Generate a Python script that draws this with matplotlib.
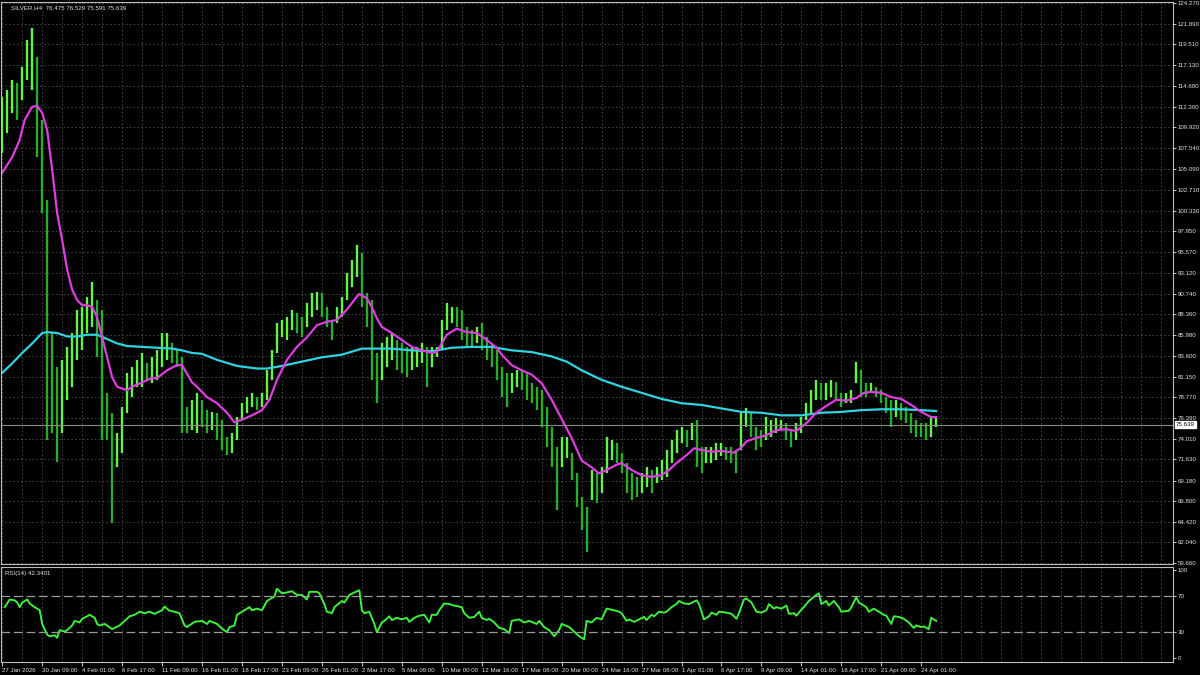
import numpy as np
import matplotlib
matplotlib.use("Agg")
import matplotlib.pyplot as plt
from matplotlib import font_manager

# SILVER H4 - one entry per two H4 bars (highs / lows)
bar_high = [113.4, 114.2, 115.4, 115.0, 116.9, 120.0, 121.4, 118.0, 110.8, 101.5,
            86.2, 82.3, 83.1, 84.6, 86.2, 88.9, 89.2, 90.4, 92.1, 90.0,
            88.9, 79.3, 77.0, 74.7, 77.7, 81.6, 82.3, 83.1, 83.9, 82.7,
            83.4, 84.2, 86.2, 86.2, 85.0, 84.2, 83.4, 77.7, 78.5, 79.3,
            78.5, 77.3, 77.1, 77.0, 76.2, 74.2, 74.7, 76.5, 78.1, 78.8,
            79.3, 78.8, 79.3, 81.9, 84.2, 87.4, 87.7, 88.0, 88.9, 88.5,
            88.0, 89.7, 90.8, 90.9, 90.8, 89.2, 87.7, 89.2, 90.4, 93.1,
            94.6, 96.4, 95.4, 90.8, 90.0, 83.9, 85.0, 85.7, 86.2, 85.4,
            85.0, 84.6, 84.6, 84.6, 85.0, 84.6, 84.6, 84.6, 87.7, 89.7,
            89.2, 89.2, 88.9, 86.9, 86.5, 86.9, 87.4, 85.7, 85.0, 84.2,
            82.3, 81.6, 81.6, 81.9, 81.9, 81.6, 80.4, 80.0, 79.6, 77.7,
            75.4, 73.0, 74.2, 74.2, 72.4, 70.0, 67.3, 66.1, 70.4, 70.0,
            70.7, 74.2, 73.9, 73.5, 72.4, 71.2, 70.0, 69.6, 70.0, 70.7,
            70.4, 70.7, 71.6, 72.7, 73.9, 75.0, 75.4, 75.0, 75.8, 76.2,
            73.0, 73.0, 73.0, 73.5, 73.5, 73.0, 73.0, 72.7, 77.0, 77.6,
            77.0, 75.4, 75.0, 76.5, 76.2, 76.4, 76.2, 75.8, 75.0, 75.8,
            76.5, 78.1, 79.6, 80.8, 80.4, 80.4, 80.8, 80.5, 79.3, 79.3,
            79.6, 82.9, 81.9, 80.4, 80.4, 80.0, 79.6, 78.8, 78.5, 78.5,
            78.1, 77.7, 77.0, 76.2, 75.8, 75.8, 76.5, 76.5]
bar_low = [107.0, 109.3, 111.6, 110.8, 113.1, 115.4, 114.2, 106.5, 100.0, 73.9,
           74.7, 71.3, 74.7, 78.5, 80.0, 83.1, 84.2, 86.2, 86.9, 83.4,
           73.9, 73.9, 64.3, 70.7, 72.4, 77.0, 78.8, 80.0, 80.0, 80.8,
           80.4, 80.8, 82.3, 83.1, 82.7, 82.3, 74.7, 74.7, 75.0, 74.7,
           75.4, 74.7, 75.0, 73.9, 72.7, 72.1, 72.4, 73.9, 76.2, 77.0,
           77.7, 77.3, 77.7, 78.5, 80.8, 83.9, 85.7, 85.4, 86.5, 86.2,
           85.7, 86.9, 88.0, 88.9, 88.0, 86.9, 85.4, 87.4, 88.0, 90.0,
           91.5, 92.7, 89.2, 86.9, 80.8, 78.1, 80.8, 82.3, 83.1, 81.9,
           81.6, 81.1, 81.9, 82.3, 82.7, 80.0, 82.3, 83.4, 84.2, 86.5,
           87.4, 86.9, 85.4, 84.6, 84.6, 85.0, 84.2, 83.1, 82.3, 80.8,
           78.8, 77.7, 79.3, 80.0, 79.6, 78.5, 78.1, 77.3, 75.4, 73.0,
           70.7, 65.8, 70.7, 71.8, 69.2, 66.1, 63.5, 60.9, 66.9, 66.6,
           67.7, 70.0, 71.6, 71.2, 70.0, 67.7, 66.9, 67.3, 67.7, 68.4,
           67.7, 68.9, 69.2, 69.6, 71.2, 72.4, 73.5, 73.0, 73.9, 70.7,
           70.0, 71.2, 71.2, 71.6, 72.0, 71.6, 71.2, 70.0, 72.7, 75.4,
           74.2, 72.7, 73.0, 73.9, 74.2, 74.7, 75.0, 73.9, 73.0, 73.9,
           74.7, 76.2, 77.0, 78.5, 78.5, 78.5, 78.8, 78.5, 77.7, 78.1,
           78.1, 80.4, 78.8, 78.8, 79.3, 78.8, 78.1, 77.0, 75.4, 76.5,
           76.2, 75.8, 74.7, 74.2, 74.2, 73.9, 74.2, 75.4]

# moving averages (bar number, price)
ma_fast_bar = [0, 4, 7, 9, 12, 14, 16, 18, 20, 22, 24, 26, 28, 30, 32, 34, 36, 38, 40, 42,
               44, 46, 50, 52, 56, 60, 62, 66, 70, 72, 76, 78, 82, 86, 90, 93, 96, 100, 104, 107,
               110, 114, 118, 122, 126, 130, 134, 138, 142, 143, 146, 148, 150, 152, 156, 160, 164, 168, 172, 174,
               176, 178, 182, 186, 190, 194, 198, 200, 204, 208, 212, 216, 220, 224, 228, 232, 236, 239, 242, 246,
               248, 252, 256, 260, 264, 267, 270, 274, 277, 280, 284, 288, 293, 296, 298, 302, 306, 310, 314, 318,
               322, 326, 330, 334, 338, 342, 345, 348, 352, 356, 360, 364, 368, 372, 374]
ma_fast = [104.7, 106.5, 108.5, 110.8, 112.3, 112.4, 111.6, 109.6, 105.0, 100.0, 96.9, 93.5, 91.2, 90.0, 89.4, 89.4, 89.2, 88.0, 85.7, 83.4,
           81.1, 80.0, 79.6, 80.0, 80.5, 81.0, 81.0, 81.9, 82.5, 82.5, 80.5, 80.0, 78.8, 78.1, 77.0, 75.9, 76.2, 76.7, 77.3, 78.5,
           80.8, 83.1, 84.6, 85.7, 87.1, 87.5, 87.7, 88.9, 90.4, 90.7, 90.2, 89.2, 87.9, 86.9, 86.2, 85.4, 84.6, 84.2, 83.9, 84.0,
           85.0, 86.0, 86.7, 86.3, 86.2, 85.4, 84.5, 83.7, 82.5, 81.9, 81.4, 80.4, 78.5, 76.3, 74.1, 71.5, 70.7, 70.0, 70.4, 71.0,
           71.2, 70.4, 69.8, 69.6, 69.8, 70.4, 71.2, 72.1, 72.9, 72.7, 72.5, 72.6, 72.4, 73.0, 73.7, 74.1, 74.4, 75.0, 75.1, 74.9,
           75.8, 77.0, 77.8, 78.5, 78.4, 78.7, 79.3, 79.4, 79.3, 78.8, 78.6, 77.9, 77.1, 76.5, 76.5]
ma_slow_bar = [0, 4, 8, 12, 16, 18, 22, 26, 30, 34, 38, 42, 46, 50, 56, 62, 68, 72, 76, 80,
               86, 94, 102, 106, 112, 120, 128, 136, 144, 148, 156, 164, 172, 180, 188, 196, 204, 212, 220, 226,
               232, 240, 248, 256, 264, 272, 280, 288, 296, 304, 312, 320, 328, 336, 344, 352, 360, 368, 374]
ma_slow = [81.6, 82.7, 83.9, 85.0, 86.2, 86.3, 86.2, 85.8, 85.8, 86.0, 86.0, 85.5, 85.0, 84.7, 84.6, 84.5, 84.4, 84.2, 83.9, 83.8,
           83.1, 82.4, 82.1, 82.1, 82.4, 82.9, 83.4, 83.7, 84.4, 84.4, 84.4, 84.2, 84.1, 84.5, 84.6, 84.6, 84.2, 84.0, 83.5, 82.9,
           81.9, 80.8, 80.0, 79.3, 78.6, 78.1, 77.9, 77.5, 77.1, 77.0, 76.7, 76.7, 77.0, 77.1, 77.3, 77.4, 77.4, 77.3, 77.2]

# RSI(14) (bar number, value)
rsi_bar = [1, 3, 5, 6, 7, 8, 10, 11, 13, 15, 16, 18, 19, 21, 22, 23, 25, 26, 28, 29,
           31, 32, 34, 35, 37, 38, 39, 41, 42, 44, 47, 49, 51, 53, 55, 57, 59, 61, 64, 65,
           67, 69, 71, 73, 74, 77, 80, 82, 83, 86, 88, 90, 91, 93, 94, 96, 97, 99, 100, 102,
           104, 106, 109, 110, 112, 114, 116, 118, 120, 122, 123, 126, 127, 129, 130, 132, 133, 136, 137, 139,
           141, 143, 144, 145, 147, 149, 150, 152, 153, 155, 156, 158, 160, 162, 163, 165, 167, 169, 171, 172,
           174, 175, 177, 179, 181, 184, 185, 187, 189, 191, 192, 194, 195, 197, 199, 201, 203, 204, 207, 209,
           211, 214, 215, 217, 219, 221, 223, 224, 227, 229, 231, 233, 234, 236, 238, 240, 242, 245, 247, 248,
           250, 251, 253, 255, 257, 258, 260, 261, 263, 265, 266, 268, 270, 271, 273, 275, 278, 279, 281, 283,
           284, 286, 287, 290, 292, 294, 295, 297, 298, 300, 302, 304, 306, 307, 309, 310, 312, 314, 315, 317,
           318, 320, 321, 323, 326, 327, 328, 330, 331, 333, 335, 336, 339, 340, 342, 343, 346, 347, 349, 351,
           353, 354, 356, 357, 359, 361, 363, 365, 366, 368, 369, 371, 372, 374]
rsi = [57.8, 66.5, 65.5, 63.0, 57.8, 63.0, 66.5, 62.0, 57.8, 54.3, 38.7, 26.5, 24.8, 25.8, 23.0, 31.7, 30.0, 31.7, 37.0, 42.2,
       40.4, 44.6, 47.4, 49.1, 45.7, 38.7, 37.0, 38.7, 37.0, 32.8, 37.0, 42.2, 47.4, 49.1, 52.6, 50.9, 52.6, 50.2, 54.3, 58.5,
       53.7, 52.6, 50.9, 37.0, 35.2, 41.1, 42.2, 38.7, 42.2, 38.7, 33.5, 29.3, 35.2, 37.0, 49.1, 52.6, 54.3, 57.8, 54.3, 56.1,
       54.3, 64.8, 70.0, 78.7, 73.5, 74.5, 75.9, 71.7, 71.7, 66.5, 75.2, 75.2, 73.5, 61.3, 52.6, 50.9, 57.8, 64.8, 63.0, 71.7,
       74.5, 77.0, 54.3, 50.9, 52.6, 38.7, 29.3, 40.4, 42.2, 47.4, 43.2, 45.7, 43.9, 45.7, 41.1, 45.7, 48.1, 49.1, 40.4, 49.1,
       49.1, 54.3, 62.0, 61.3, 59.6, 57.8, 50.9, 45.7, 46.7, 52.6, 45.7, 43.2, 44.6, 40.4, 34.2, 32.8, 28.3, 42.2, 43.9, 40.4,
       42.2, 38.7, 42.2, 35.2, 31.7, 24.8, 31.7, 38.7, 35.2, 30.0, 24.8, 21.3, 42.2, 40.4, 45.7, 43.9, 56.1, 54.3, 52.6, 50.9,
       42.2, 43.9, 41.1, 43.9, 46.7, 43.2, 49.1, 47.4, 52.6, 51.6, 52.6, 57.8, 61.3, 64.8, 62.0, 61.3, 65.5, 61.3, 43.9, 47.4,
       51.6, 49.1, 52.6, 51.6, 50.2, 44.6, 50.9, 66.5, 67.6, 63.0, 52.6, 51.6, 54.3, 61.3, 56.1, 57.8, 56.1, 59.6, 50.2, 50.9,
       48.1, 55.0, 57.8, 64.8, 71.7, 73.5, 61.3, 64.8, 59.6, 64.8, 57.8, 52.6, 53.7, 57.8, 69.0, 63.0, 57.8, 52.6, 56.1, 52.6,
       49.1, 48.1, 38.7, 47.4, 46.7, 44.6, 40.4, 34.2, 37.0, 35.2, 35.9, 32.8, 45.7, 42.2]

price_ticks = [124.270, 121.890, 119.510, 117.130, 114.680, 112.300, 109.920, 107.540, 105.090,
               102.710, 100.330, 97.950, 95.570, 93.120, 90.740, 88.360, 85.980, 83.600, 81.150,
               78.770, 76.390, 74.010, 71.630, 69.180, 66.800, 64.420, 62.040, 59.660]
time_labels = ["27 Jan 2026", "30 Jan 09:00", "4 Feb 01:00", "6 Feb 17:00", "11 Feb 09:00",
               "16 Feb 01:00", "18 Feb 17:00", "23 Feb 09:00", "26 Feb 01:00", "2 Mar 17:00",
               "5 Mar 09:00", "10 Mar 00:00", "12 Mar 16:00", "17 Mar 08:00", "20 Mar 00:00",
               "24 Mar 16:00", "27 Mar 08:00", "1 Apr 01:00", "6 Apr 17:00", "9 Apr 09:00",
               "14 Apr 01:00", "16 Apr 17:00", "21 Apr 09:00", "24 Apr 01:00"]
bid = 75.639
rsi_last = 42.3401

# small condensed text like the terminal; fall back if the narrow face is missing
names = {f.name for f in font_manager.fontManager.ttflist}
if "Liberation Sans Narrow" in names:
    plt.rcParams["font.family"] = ["Liberation Sans Narrow", "DejaVu Sans"]
    fs = 5.3
else:
    plt.rcParams["font.family"] = ["Liberation Sans", "DejaVu Sans"]
    fs = 4.4
bg = "black"
grid_col = "#4a4a4a"
txt_col = "#e4e4e4"
frame_col = "#bdbdbd"

fig = plt.figure(figsize=(12, 6.75), dpi=100, facecolor=bg)
W, H = 1200, 675
ax = fig.add_axes([1 / W, 1 - 564 / H, 1172 / W, 562 / H], facecolor=bg)
ax2 = fig.add_axes([1 / W, 1 - 662 / H, 1172 / W, 95 / H], facecolor=bg)

x_max = 1172 / 2.5
bars_x = np.arange(len(bar_high)) * 2
hi = np.array(bar_high)
lo = np.array(bar_low)
mid = (hi + lo) / 2
up = np.r_[True, np.diff(mid) >= 0]
ax.vlines(bars_x[up], lo[up], hi[up], color="#62f545", lw=1.7)
ax.vlines(bars_x[~up], lo[~up], hi[~up], color="#28ad28", lw=1.7)

ax.plot(ma_slow_bar, ma_slow, color="#2fd4e0", lw=1.6)
ax.plot(ma_fast_bar, ma_fast, color="#de3ee0", lw=1.6)
ax.axhline(bid, color="#8a8a8a", lw=0.8)

for a in (ax, ax2):
    a.set_xlim(-0.5, x_max)
    for xg in np.arange(0, x_max, 8):
        a.axvline(xg, color=grid_col, lw=0.7, ls=(0, (1.5, 2.5)), zorder=0)
    for s in a.spines.values():
        s.set_color(frame_col)
        s.set_linewidth(0.8)
    a.yaxis.tick_right()
    a.tick_params(axis="y", colors=frame_col, labelcolor=txt_col, labelsize=fs, length=2.5, pad=1)

ax.set_ylim(59.55, 124.39)
ax.set_yticks(price_ticks)
ax.set_yticklabels([f"{v:.3f}" for v in price_ticks])
for v in price_ticks:
    ax.axhline(v, color=grid_col, lw=0.7, ls=(0, (1.5, 2.5)), zorder=0)
ax.set_xticks([])
ax.text(1.0025, bid, f"{bid:.3f}", transform=ax.get_yaxis_transform(), fontsize=fs,
        color="black", va="center", ha="left", zorder=5,
        bbox=dict(boxstyle="square,pad=0.12", fc="white", ec="white"))
ax.text(10 / 1172, 1 - 3 / 562, "SILVER,H4  76.475 76.529 75.591 75.639", transform=ax.transAxes,
        fontsize=fs, color=txt_col, va="top", ha="left")

ax2.plot(rsi_bar, rsi, color="#3cf03c", lw=1.4)
ax2.set_ylim(-4.5, 103.4)
ax2.set_yticks([0, 30, 70, 100])
ax2.set_yticklabels(["0", "30", "70", "100"])
for lvl in (30, 70):
    ax2.axhline(lvl, color="#9a9a9a", lw=0.9, ls=(0, (7, 3)))
ax2.text(4 / 1172, 0.96, f"RSI(14) {rsi_last:.4f}", transform=ax2.transAxes,
         fontsize=fs, color=txt_col, va="top", ha="left")
tick_pos = np.arange(len(time_labels)) * 16
ax2.set_xticks(tick_pos)
ax2.set_xticklabels(time_labels, ha="left")
ax2.tick_params(axis="x", colors=frame_col, labelcolor=txt_col, labelsize=fs, length=3, pad=1)

fig.savefig("out.png", dpi=100, facecolor=bg)
